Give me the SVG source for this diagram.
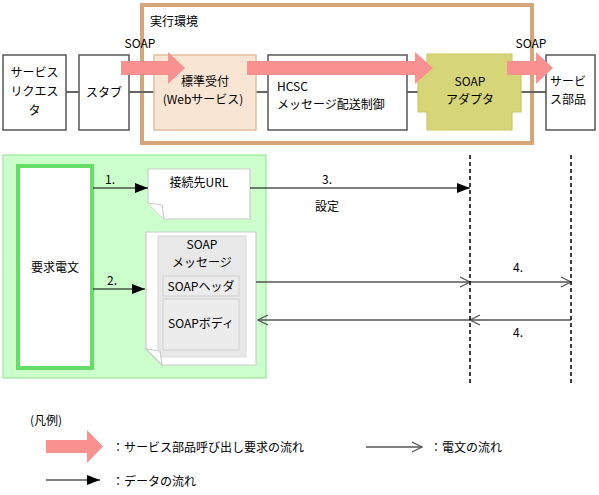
<svg xmlns="http://www.w3.org/2000/svg" width="599" height="495" viewBox="0 0 599 495">
<style>
text{font-family:"Noto Sans CJK JP","Noto Sans",sans-serif;font-size:12px;fill:#000}
.c{text-anchor:middle}
.box{fill:#fff;stroke:#555;stroke-width:1.5}
.doc{fill:#fff;stroke:#ccc;stroke-width:1.2}
.pink{fill:#fa9191}
.msg{stroke:#555;stroke-width:1.4;fill:none}
.data{stroke:#000;stroke-width:1.2;fill:none}
.dash{stroke:#000;stroke-width:1.5;stroke-dasharray:4 3}
</style>
<defs>
<marker id="open" markerWidth="12" markerHeight="12" refX="11" refY="6" orient="auto" markerUnits="userSpaceOnUse">
<path d="M1,1 L11,6 L1,11" fill="none" stroke="#555" stroke-width="1.3"/>
</marker>
<marker id="fill" markerWidth="14" markerHeight="12" refX="13" refY="6" orient="auto" markerUnits="userSpaceOnUse">
<path d="M0,1 L13,6 L0,11 Z" fill="#000"/>
</marker>
</defs>

<!-- execution environment frame -->
<g id="env">
<rect x="142" y="5" width="390" height="138" fill="none" stroke="#d4a67a" stroke-width="4"/>
<text x="150" y="26">実行環境</text>
</g>

<!-- green area -->
<g id="area">
<rect x="3" y="155" width="263" height="223" fill="#ccffcc" stroke="#99e699" stroke-width="1.2"/>
</g>
<g id="request">
<rect x="18" y="166" width="74" height="202" fill="#fff" stroke="#66dd66" stroke-width="4"/>
<text class="c" x="55" y="272">要求電文</text>
</g>
<g id="url">
<path class="doc" d="M148,169 H250 V219 H164 L148,203 Z"/>
<path d="M148,203 L162,205 L164,219" fill="#fff" stroke="#ccc" stroke-width="1.2"/>
<text class="c" x="199" y="187">接続先URL</text>
</g>
<g id="soapmsg">
<path class="doc" d="M146,232 H256 V365 H162 L146,349 Z"/>
<rect x="158" y="236" width="88" height="121" fill="#e8e8e8" stroke="#d8d8d8" stroke-width="1"/>
<rect x="163" y="276" width="76" height="20" fill="#ececec" stroke="#d0d0d0" stroke-width="1"/>
<rect x="163" y="299" width="76" height="51" fill="#ececec" stroke="#d0d0d0" stroke-width="1"/>
<path d="M146,349 L160,351 L162,365 Z" fill="#fff" stroke="#ccc" stroke-width="1.2"/>
<text class="c" x="202" y="249">SOAP</text>
<text class="c" x="202" y="267">メッセージ</text>
<text class="c" x="201" y="291">SOAPヘッダ</text>
<text class="c" x="201" y="328">SOAPボディ</text>
</g>

<!-- connectors -->
<g id="connectors">
<line x1="66" y1="92" x2="546" y2="92" stroke="#666" stroke-width="2"/>
<line class="data" x1="93" y1="188" x2="148" y2="188" marker-end="url(#fill)"/>
<line class="data" x1="93" y1="289" x2="145" y2="289" marker-end="url(#fill)"/>
<line class="data" x1="250" y1="188" x2="470" y2="188" marker-end="url(#fill)"/>
<line class="msg" x1="256" y1="282" x2="470" y2="282" marker-end="url(#open)"/>
<line class="msg" x1="470" y1="282" x2="571" y2="282" marker-end="url(#open)"/>
<line class="msg" x1="571" y1="320" x2="470" y2="320" marker-end="url(#open)" stroke="#777" stroke-width="2"/>
<line class="msg" x1="470" y1="320" x2="258" y2="320" marker-end="url(#open)" stroke="#777" stroke-width="2"/>
<line class="dash" x1="470" y1="155" x2="470" y2="383"/>
<line class="dash" x1="571" y1="155" x2="571" y2="383"/>
<text x="105" y="184">1.</text>
<text x="107" y="285">2.</text>
<text x="322" y="184">3.</text>
<text x="315" y="211">設定</text>
<text x="513" y="272">4.</text>
<text x="513" y="337">4.</text>
</g>

<g id="requester">
<rect class="box" x="3" y="55" width="63" height="75"/>
<text class="c" x="34.5" y="77">サービス</text>
<text class="c" x="34.5" y="96">リクエス</text>
<text class="c" x="34.5" y="115">タ</text>
</g>
<g id="stub">
<rect class="box" x="79" y="55" width="50" height="75"/>
<text class="c" x="104" y="97">スタブ</text>
</g>
<g id="standard">
<rect x="154" y="55" width="102" height="75" fill="#f9e5d3" stroke="#e0bf9c" stroke-width="1.5"/>
<text class="c" x="205" y="86">標準受付</text>
<text class="c" x="203" y="104">(Webサービス)</text>
</g>
<g id="hcsc">
<rect class="box" x="268" y="55" width="139" height="75"/>
<text x="277" y="91">HCSC</text>
<text x="277" y="109">メッセージ配送制御</text>
</g>
<g id="adapter">
<path d="M427,54 H512 V63 H521 V112 H512 V130 H427 V112 H418 V63 H427 Z" fill="#d6d679" stroke="#c9c966" stroke-width="1.2"/>
<text class="c" x="470" y="86">SOAP</text>
<text class="c" x="470" y="104">アダプタ</text>
</g>
<g id="component">
<rect class="box" x="546" y="55" width="49" height="75"/>
<text x="550" y="86">サービ</text>
<text x="550" y="104">ス部品</text>
</g>

<!-- pink call-flow arrows -->
<g id="callflow">
<path class="pink" d="M121,61 H168 V52 L185,68 L168,84 V75 H121 Z"/>
<path class="pink" d="M247,61 H415 V52 L433,68 L415,84 V75 H247 Z"/>
<path class="pink" d="M507,61 H536 V52 L553,68 L536,84 V75 H507 Z"/>
<text class="c" x="140" y="48">SOAP</text>
<text class="c" x="531" y="48">SOAP</text>
</g>

<!-- legend -->
<g id="legend">
<text x="30" y="425">(凡例)</text>
<path class="pink" d="M46,440 H87 V430 L103,446.5 L87,463 V453 H46 Z"/>
<text x="112" y="452">：サービス部品呼び出し要求の流れ</text>
<line class="msg" x1="366" y1="447" x2="422" y2="447" marker-end="url(#open)"/>
<text x="430" y="452">：電文の流れ</text>
<line class="data" x1="46" y1="480" x2="100" y2="480" marker-end="url(#fill)"/>
<text x="112" y="486">：データの流れ</text>
</g>
</svg>
